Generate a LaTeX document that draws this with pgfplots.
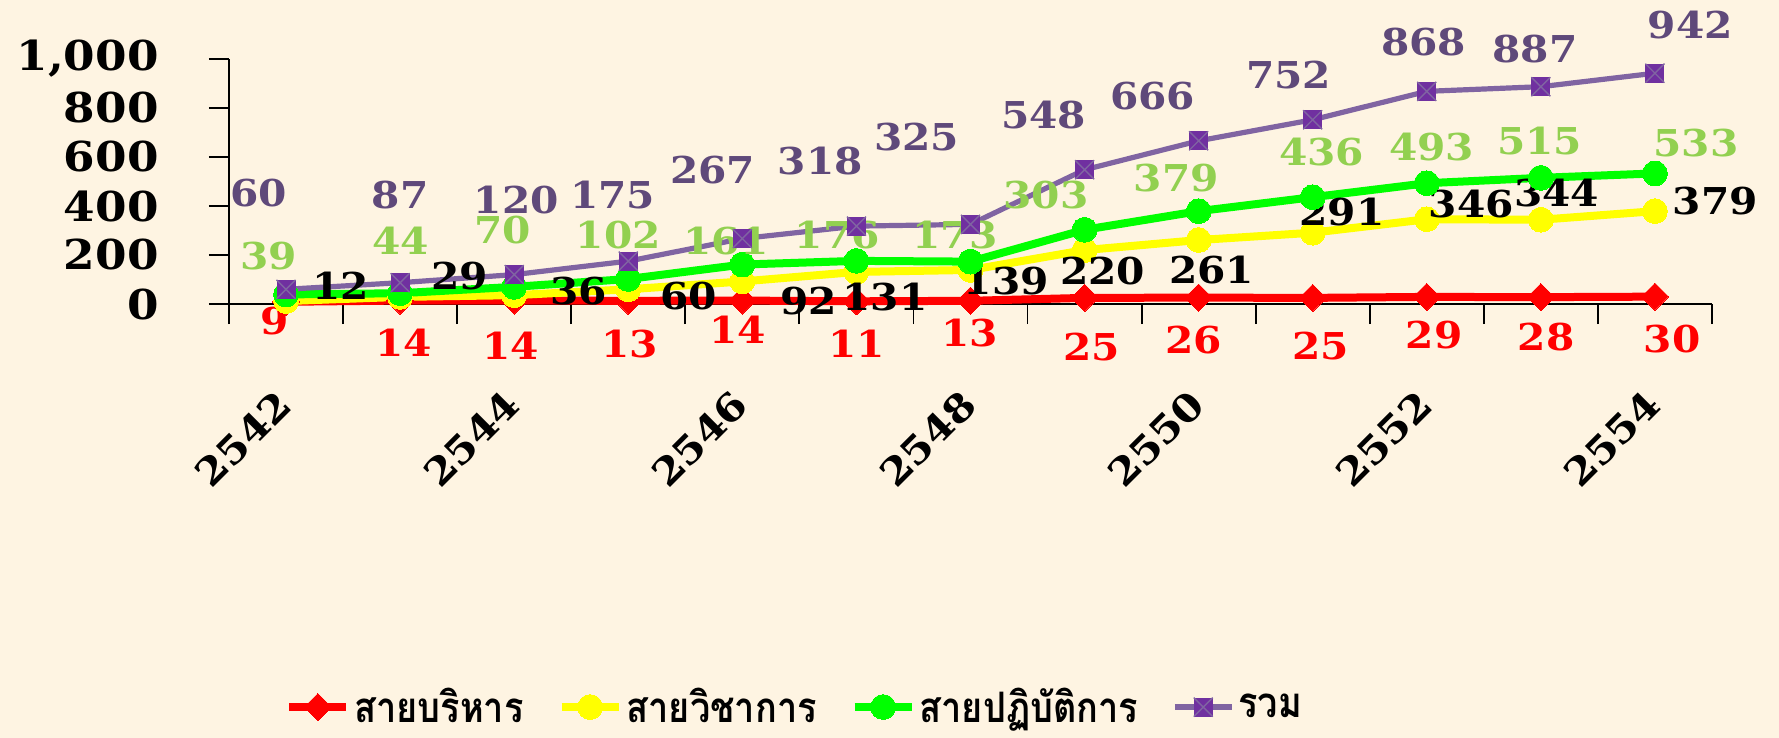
\documentclass[border=0pt]{standalone}
\usepackage{pgfplots}
\pgfplotsset{compat=1.18}
\usepackage{pgfplotstable}
\usepackage{fontspec}
\newfontfamily\numfont[FakeStretch=1.1]{DejaVu Serif}
\newfontfamily\thaifont[Script=Thai,FakeStretch=0.86]{Loma}

\definecolor{bgc}{HTML}{FEF4E2}
\definecolor{cred}{HTML}{FF0000}
\definecolor{cyel}{HTML}{FFFF00}
\definecolor{cgrn}{HTML}{00FF00}
\definecolor{cpur}{HTML}{8064A2}
\definecolor{cpurm}{HTML}{7030A0}
\definecolor{lblpur}{HTML}{5F497A}
\definecolor{lblgrn}{HTML}{92D050}

% square marker with a cross, as in the total series
\pgfdeclareplotmark{sqx}{%
  \pgfsetfillcolor{cpurm}%
  \pgfpathrectangle{\pgfqpoint{-\pgfplotmarksize}{-\pgfplotmarksize}}{\pgfqpoint{2\pgfplotmarksize}{2\pgfplotmarksize}}%
  \pgfusepath{fill}%
  \pgfsetstrokecolor{cpur}\pgfsetlinewidth{0.7pt}%
  \pgfpathmoveto{\pgfqpoint{-\pgfplotmarksize}{-\pgfplotmarksize}}%
  \pgfpathlineto{\pgfqpoint{\pgfplotmarksize}{\pgfplotmarksize}}%
  \pgfpathmoveto{\pgfqpoint{-\pgfplotmarksize}{\pgfplotmarksize}}%
  \pgfpathlineto{\pgfqpoint{\pgfplotmarksize}{-\pgfplotmarksize}}%
  \pgfusepath{stroke}}

% x = year index (2542 = 0), y = value, dx/dy = label offset in pt
\pgfplotstableread{
x y dx dy
0 9 -5.7 -9.7
1 14 1.9 -21.0
2 14 -1.8 -22.7
3 13 0.7 -21.5
4 14 -2.4 -14.8
5 11 0.1 -21.3
6 13 -0.3 -16.3
7 25 3.4 -24.7
8 26 -2.6 -21.3
9 25 3.9 -24.1
10 29 3.6 -18.9
11 28 2.7 -19.9
12 30 8.6 -21.3
}\admin

\pgfplotstableread{
x y dx dy
0 12 27.2 7.5
1 29 29.7 10.6
2 36 32.2 2.3
3 60 30.2 -3.5
4 92 33.3 -9.6
5 131 14.2 -12.7
6 139 17.9 -5.7
7 220 9.1 -10.6
8 261 6.5 -15.0
9 291 14.7 10.3
10 346 22.3 7.5
11 344 7.8 13.4
12 379 30.2 5.2
}\acad

\pgfplotstableread{
x y dx dy
0 39 -8.6 19.0
1 44 0.2 26.3
2 70 -5.8 28.3
3 102 -5.0 22.1
4 161 -8.1 12.0
5 176 -9.6 13.0
6 173 -7.7 13.3
7 303 -19.3 17.3
8 379 -11.1 16.5
9 436 4.5 22.6
10 493 2.4 17.9
11 515 -0.7 18.6
12 533 20.5 15.2
}\oper

\pgfplotstableread{
x y dx dy
0 60 -13.7 48.2
1 87 0 43.7
2 120 1.1 37.4
3 175 -7.8 33.0
4 267 -14.9 34.2
5 318 -18.1 32.4
6 325 -26.9 43.5
7 548 -20.4 27.6
8 666 -23.0 22.2
9 752 -12.0 22.4
10 868 -1.5 24.7
11 887 -3.0 18.9
12 942 17.7 24.1
}\total

\pgfplotsset{
  lbl/.style={
    nodes near coords,
    visualization depends on={\thisrow{dx}\as\ldx},
    visualization depends on={\thisrow{dy}\as\ldy},
    every node near coord/.append style={anchor=center, inner sep=0pt,
      xshift=\ldx pt, yshift=\ldy pt, text=#1,
      font=\numfont\bfseries\fontsize{18.5}{20}\selectfont,
      /pgf/number format/assume math mode=true}
  }
}

\begin{document}
\begin{tikzpicture}
\fill[bgc] (-114.5pt,-217pt) rectangle (775pt,152pt);
\begin{axis}[
  scale only axis,
  width=741.5pt, height=122.5pt,
  xmin=-0.5, xmax=12.5,
  ymin=0, ymax=1000,
  clip=false,
  axis x line*=bottom, axis y line*=left,
  axis line style={black, line width=0.9pt},
  tick align=outside, tick pos=left,
  major tick length=10pt, minor tick length=10pt,
  tick style={black, line width=0.9pt},
  xtick={0,2,...,12},
  xticklabels={2542,2544,2546,2548,2550,2552,2554},
  minor xtick={-0.5,0.5,...,12.5},
  xtick style={draw=none},
  minor x tick style={draw=black},
  xticklabel style={anchor=east, inner sep=0pt, xshift=-0.7pt, yshift=-36.7pt, rotate=45,
    font=\numfont\bfseries\fontsize{19}{21}\selectfont},
  ytick={0,200,...,1000},
  yticklabel style={anchor=east, inner sep=0pt, xshift=-25pt,
    font=\numfont\bfseries\fontsize{20.6}{22}\selectfont,
    /pgf/number format/1000 sep={,}},
  /pgf/number format/assume math mode=true,
  legend columns=-1,
  legend style={at={(rel axis cs:0.0378,-1.645)}, anchor=west, draw=none, fill=none,
    inner sep=0pt,
    font=\thaifont\bfseries\fontsize{21}{23}\selectfont,
    nodes={inner sep=2pt},
    /tikz/every even column/.append style={column sep=15pt}},
  legend image code/.code={\draw[mark repeat=2,mark phase=2] plot coordinates {(0cm,0cm) (0.5cm,0cm) (1cm,0cm)};},
]
\addplot[cred, line width=4pt, mark=square*, mark size=4.8pt,
  mark options={rotate=45, solid, line width=0pt}, lbl=cred]
  table[x=x,y=y]{\admin};
\addlegendentry{สายบริหาร}
\addplot[cyel, line width=4pt, mark=*, mark size=6.2pt,
  mark options={solid, line width=0pt}, lbl=black]
  table[x=x,y=y]{\acad};
\addlegendentry{สายวิชาการ}
\addplot[cgrn, line width=4pt, mark=*, mark size=6.2pt,
  mark options={solid, line width=0pt}, lbl=lblgrn]
  table[x=x,y=y]{\oper};
\addlegendentry{สายปฏิบัติการ}
\addplot[cpur, line width=2.6pt, mark=sqx, mark size=4.75pt, lbl=lblpur]
  table[x=x,y=y]{\total};
\addlegendentry{รวม}
\end{axis}
\pgfresetboundingbox
\path[use as bounding box] (-114.5pt,-217pt) rectangle (775pt,152pt);
\end{tikzpicture}
\end{document}
